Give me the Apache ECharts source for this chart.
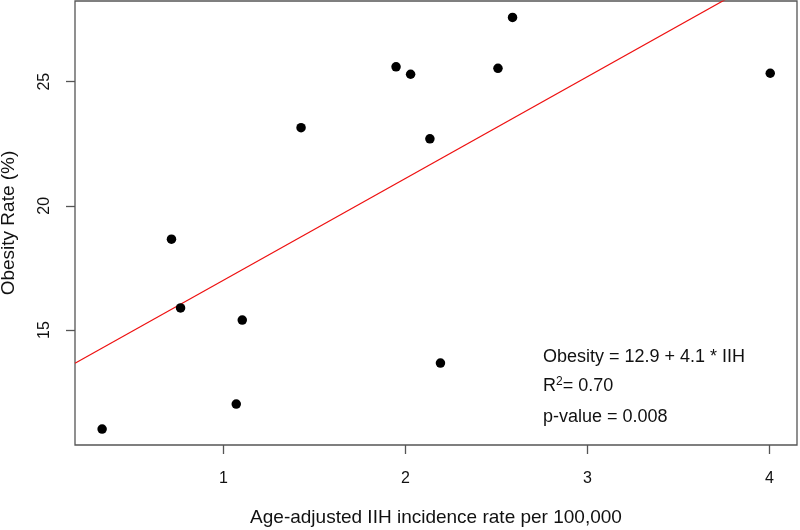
<!DOCTYPE html>
<html>
<head>
<meta charset="utf-8">
<script src="https://cdn.jsdelivr.net/npm/echarts@6/dist/echarts.min.js"></script>
<style>
  html, body { margin: 0; padding: 0; background: #fff; }
  #chart { width: 800px; height: 530px; }
</style>
</head>
<body>
<div id="chart"></div>
<script>
// IIH incidence (per 100,000) vs obesity rate (%)
var iihRate = [0.334, 0.715, 0.765, 1.071, 1.104, 1.427, 1.949, 2.029, 2.135, 2.193, 2.509, 2.589, 4.005];
var obesityRate = [11.01, 18.66, 15.89, 12.02, 15.40, 23.15, 25.60, 25.30, 22.70, 13.67, 25.54, 27.59, 25.34];
var xTicks = [1, 2, 3, 4];
var yTicks = [15, 20, 25];
var intercept = 12.9;
var slope = 4.1;

var xMin = 0.185, xMax = 4.152;
var yMin = 10.37, yMax = 28.25;

var points = iihRate.map(function (x, i) { return [x, obesityRate[i]]; });
var fitLine = [xMin, xMax].map(function (x) { return [x, intercept + slope * x]; });

var font = '"Liberation Sans", Arial, sans-serif';
var chart = echarts.init(document.getElementById('chart'));

var option = {
    backgroundColor: '#ffffff',
    animation: false,
    grid: {
        left: 75, right: 3, top: 1, bottom: 85,
        outerBoundsMode: 'none', containLabel: false,
        show: true, borderColor: '#555', borderWidth: 1.3, backgroundColor: 'transparent'
    },
    xAxis: {
        type: 'value', min: xMin, max: xMax,
        name: 'Age-adjusted IIH incidence rate per 100,000',
        nameLocation: 'middle', nameGap: 63,
        nameTextStyle: { fontFamily: font, fontSize: 19, color: '#111' },
        axisLine: { show: false },
        splitLine: { show: false },
        axisTick: { show: true, length: 9, customValues: xTicks, lineStyle: { color: '#555', width: 1.3 } },
        axisLabel: { customValues: xTicks, margin: 26, fontFamily: font, fontSize: 16, color: '#111' }
    },
    yAxis: {
        type: 'value', min: yMin, max: yMax,
        name: 'Obesity Rate (%)',
        nameLocation: 'middle', nameGap: 57,
        nameTextStyle: { fontFamily: font, fontSize: 19, color: '#111' },
        axisLine: { show: false },
        splitLine: { show: false },
        axisTick: { show: true, length: 9, customValues: yTicks, lineStyle: { color: '#555', width: 1.3 } },
        axisLabel: { customValues: yTicks, rotate: 90, margin: 22, fontFamily: font, fontSize: 16, color: '#111' }
    },
    series: [{
        type: 'line',
        data: fitLine,
        symbol: 'none',
        clip: true,
        lineStyle: { color: '#ee1111', width: 1.2 },
        z: 1
    }, {
        type: 'scatter',
        data: points,
        symbol: 'circle',
        symbolSize: 9.5,
        itemStyle: { color: '#000', opacity: 1 },
        z: 2
    }],
    graphic: [{
        type: 'text', left: 543, top: 348,
        style: { text: 'Obesity = 12.9 + 4.1 * IIH', font: '18px ' + font, fill: '#111' }
    }, {
        type: 'text', left: 543, top: 376,
        style: {
            text: 'R{sup|2}= 0.70',
            font: '18px ' + font, fill: '#111',
            rich: { sup: { fontSize: 12, fontFamily: font, verticalAlign: 'top', padding: [0, 0, 8, 0], fill: '#111' } }
        }
    }, {
        type: 'text', left: 543, top: 408,
        style: { text: 'p-value = 0.008', font: '18px ' + font, fill: '#111' }
    }]
};

chart.setOption(option);
</script>
</body>
</html>
